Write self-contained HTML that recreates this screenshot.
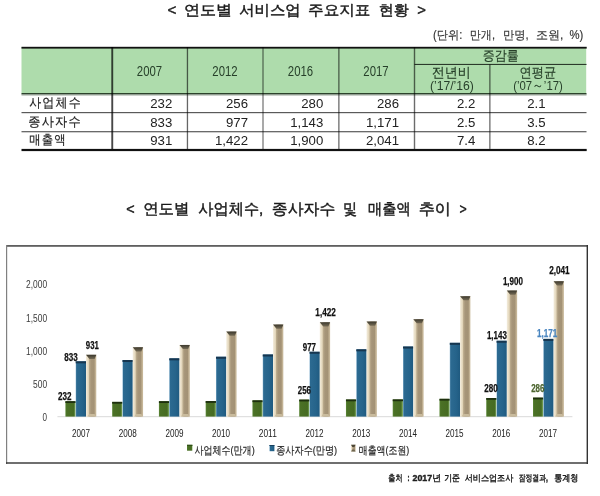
<!DOCTYPE html>
<html><head><meta charset="utf-8"><title>서비스업 주요지표</title>
<style>html,body{margin:0;padding:0;background:#fff;width:600px;height:496px;overflow:hidden}svg{display:block;will-change:transform}</style>
</head><body>
<svg width="600" height="496" viewBox="0 0 600 496"><defs>
<linearGradient id="gG" x1="0" x2="1" y1="0" y2="0"><stop offset="0" stop-color="#5d8a3a"/><stop offset="0.12" stop-color="#4b7126"/><stop offset="0.8" stop-color="#466b22"/><stop offset="0.92" stop-color="#6a9448"/><stop offset="1" stop-color="#98bb80"/></linearGradient>
<linearGradient id="gB" x1="0" x2="1" y1="0" y2="0"><stop offset="0" stop-color="#8db6d2"/><stop offset="0.09" stop-color="#2c6a91"/><stop offset="0.6" stop-color="#26648b"/><stop offset="1" stop-color="#1f5a80"/></linearGradient>
<linearGradient id="gT" x1="0" x2="1" y1="0" y2="0"><stop offset="0" stop-color="#f3ecdc"/><stop offset="0.24" stop-color="#e2d5b9"/><stop offset="0.34" stop-color="#b9a98b"/><stop offset="0.5" stop-color="#a69579"/><stop offset="0.8" stop-color="#a39275"/><stop offset="0.87" stop-color="#bdac8e"/><stop offset="1" stop-color="#cbbc9e"/></linearGradient>
<linearGradient id="gTop" x1="0" x2="0" y1="0" y2="1"><stop offset="0" stop-color="#3b382d"/><stop offset="1" stop-color="#756b55"/></linearGradient>
</defs><rect x="21.5" y="47" width="564.7" height="46.5" fill="#aedcac"/>
<rect x="21.5" y="46.8" width="565.2" height="1.8" fill="#111"/>
<rect x="21.5" y="93.0" width="565.0" height="1.3" fill="#2c432c"/>
<rect x="21.5" y="94.3" width="565.0" height="1.1" fill="#7f8c7f"/>
<rect x="414.5" y="63.9" width="172.0" height="1.1" fill="#2b3a2b"/>
<rect x="21.5" y="112.0" width="565" height="1.2" fill="#5a5a5a"/>
<rect x="21.5" y="131.1" width="565" height="1.2" fill="#5a5a5a"/>
<rect x="21.5" y="148.9" width="565.2" height="2.2" fill="#111"/>
<rect x="111.3" y="47" width="1.9" height="102" fill="#000" fill-opacity="0.72"/>
<rect x="186.8" y="47" width="1.3" height="102" fill="#000" fill-opacity="0.6"/>
<rect x="262.2" y="47" width="1.6" height="102" fill="#000" fill-opacity="0.42"/>
<rect x="338.1" y="47" width="1.5" height="102" fill="#000" fill-opacity="0.5"/>
<rect x="413.8" y="47" width="1.4" height="102" fill="#000" fill-opacity="0.58"/>
<rect x="489.1" y="64.5" width="1.5" height="84.4" fill="#000" fill-opacity="0.5"/>
<text x="149.5" y="75.8" font-size="14" fill="#27402a" text-anchor="middle" textLength="25.3" lengthAdjust="spacingAndGlyphs" font-family='"Liberation Sans", sans-serif'>2007</text>
<text x="225" y="75.8" font-size="14" fill="#27402a" text-anchor="middle" textLength="25.3" lengthAdjust="spacingAndGlyphs" font-family='"Liberation Sans", sans-serif'>2012</text>
<text x="300.5" y="75.8" font-size="14" fill="#27402a" text-anchor="middle" textLength="25.3" lengthAdjust="spacingAndGlyphs" font-family='"Liberation Sans", sans-serif'>2016</text>
<text x="376" y="75.8" font-size="14" fill="#27402a" text-anchor="middle" textLength="25.3" lengthAdjust="spacingAndGlyphs" font-family='"Liberation Sans", sans-serif'>2017</text>
<text x="500.8" y="59.8" font-size="13.5" fill="#27402a" text-anchor="middle" textLength="36" lengthAdjust="spacingAndGlyphs" stroke="#27402a" stroke-width="0.2" font-family='"Liberation Sans", "WenQuanYi Zen Hei", sans-serif'>증감률</text>
<text x="451.3" y="76.8" font-size="13.5" fill="#27402a" text-anchor="middle" textLength="39" lengthAdjust="spacingAndGlyphs" stroke="#27402a" stroke-width="0.2" font-family='"Liberation Sans", "WenQuanYi Zen Hei", sans-serif'>전년비</text>
<text x="451.9" y="90.4" font-size="13.5" fill="#27402a" text-anchor="middle" textLength="44" lengthAdjust="spacingAndGlyphs" font-family='"Liberation Sans", sans-serif'>(’17/’16)</text>
<text x="537.8" y="77.0" font-size="13.5" fill="#27402a" text-anchor="middle" textLength="36.5" lengthAdjust="spacingAndGlyphs" stroke="#27402a" stroke-width="0.2" font-family='"Liberation Sans", "WenQuanYi Zen Hei", sans-serif'>연평균</text>
<text x="538" y="90.3" font-size="13.5" fill="#27402a" text-anchor="middle" textLength="49.5" lengthAdjust="spacingAndGlyphs" font-family='"Liberation Sans", sans-serif'>(’07～’17)</text>
<text x="172.3" y="107.6" font-size="13.2" fill="#222" text-anchor="end" font-family='"Liberation Sans", sans-serif'>232</text>
<text x="248.0" y="107.6" font-size="13.2" fill="#222" text-anchor="end" font-family='"Liberation Sans", sans-serif'>256</text>
<text x="323.3" y="107.6" font-size="13.2" fill="#222" text-anchor="end" font-family='"Liberation Sans", sans-serif'>280</text>
<text x="399.0" y="107.6" font-size="13.2" fill="#222" text-anchor="end" font-family='"Liberation Sans", sans-serif'>286</text>
<text x="475.3" y="107.6" font-size="13.2" fill="#222" text-anchor="end" font-family='"Liberation Sans", sans-serif'>2.2</text>
<text x="545.6" y="107.6" font-size="13.2" fill="#222" text-anchor="end" font-family='"Liberation Sans", sans-serif'>2.1</text>
<text x="172.3" y="126.5" font-size="13.2" fill="#222" text-anchor="end" font-family='"Liberation Sans", sans-serif'>833</text>
<text x="248.0" y="126.5" font-size="13.2" fill="#222" text-anchor="end" font-family='"Liberation Sans", sans-serif'>977</text>
<text x="323.3" y="126.5" font-size="13.2" fill="#222" text-anchor="end" font-family='"Liberation Sans", sans-serif'>1,143</text>
<text x="399.0" y="126.5" font-size="13.2" fill="#222" text-anchor="end" font-family='"Liberation Sans", sans-serif'>1,171</text>
<text x="475.3" y="126.5" font-size="13.2" fill="#222" text-anchor="end" font-family='"Liberation Sans", sans-serif'>2.5</text>
<text x="545.6" y="126.5" font-size="13.2" fill="#222" text-anchor="end" font-family='"Liberation Sans", sans-serif'>3.5</text>
<text x="172.3" y="145.2" font-size="13.2" fill="#222" text-anchor="end" font-family='"Liberation Sans", sans-serif'>931</text>
<text x="248.0" y="145.2" font-size="13.2" fill="#222" text-anchor="end" font-family='"Liberation Sans", sans-serif'>1,422</text>
<text x="323.3" y="145.2" font-size="13.2" fill="#222" text-anchor="end" font-family='"Liberation Sans", sans-serif'>1,900</text>
<text x="399.0" y="145.2" font-size="13.2" fill="#222" text-anchor="end" font-family='"Liberation Sans", sans-serif'>2,041</text>
<text x="475.3" y="145.2" font-size="13.2" fill="#222" text-anchor="end" font-family='"Liberation Sans", sans-serif'>7.4</text>
<text x="545.6" y="145.2" font-size="13.2" fill="#222" text-anchor="end" font-family='"Liberation Sans", sans-serif'>8.2</text>
<rect x="6" y="245" width="582" height="1.8" fill="#5f5f5f"/>
<rect x="6" y="245" width="1.2" height="219" fill="#808080"/>
<rect x="586.6" y="245" width="1.4" height="219" fill="#333"/>
<rect x="6" y="462.3" width="582" height="1.4" fill="#333"/>
<rect x="57.4" y="416.2" width="515" height="1.0" fill="#d9d9d9"/>
<rect x="65.4" y="401.20680000000004" width="10.3" height="15.393200000000002" fill="url(#gG)"/>
<rect x="65.4" y="401.20680000000004" width="10.3" height="1.8" fill="#1d2f0e"/>
<rect x="75.7" y="361.33045000000004" width="10.3" height="55.26955" fill="url(#gB)"/>
<rect x="75.7" y="361.33045000000004" width="10.3" height="2.0" fill="#163650"/>
<rect x="86.0" y="354.82815" width="10.3" height="61.77185000000001" fill="url(#gT)"/>
<polygon points="86.0,354.82815 96.3,354.82815 94.6,359.02815 89.4,359.02815" fill="url(#gTop)"/>
<polygon points="87.4,416.6 95.7,416.6 94.6,414.0 89.4,414.0" fill="#c9bb9d"/>
<rect x="112.16" y="401.87030000000004" width="10.3" height="14.729700000000001" fill="url(#gG)"/>
<rect x="112.16" y="401.87030000000004" width="10.3" height="1.8" fill="#1d2f0e"/>
<rect x="122.46" y="360.00345000000004" width="10.3" height="56.59655000000001" fill="url(#gB)"/>
<rect x="122.46" y="360.00345000000004" width="10.3" height="2.0" fill="#163650"/>
<rect x="132.76" y="347.26425" width="10.3" height="69.33575" fill="url(#gT)"/>
<polygon points="132.76,347.26425 143.06,347.26425 141.36,351.46425 136.16,351.46425" fill="url(#gTop)"/>
<polygon points="134.16,416.6 142.46,416.6 141.36,414.0 136.16,414.0" fill="#c9bb9d"/>
<rect x="158.92000000000002" y="401.20680000000004" width="10.3" height="15.393200000000002" fill="url(#gG)"/>
<rect x="158.92000000000002" y="401.20680000000004" width="10.3" height="1.8" fill="#1d2f0e"/>
<rect x="169.22000000000003" y="358.3447" width="10.3" height="58.255300000000005" fill="url(#gB)"/>
<rect x="169.22000000000003" y="358.3447" width="10.3" height="2.0" fill="#163650"/>
<rect x="179.52" y="344.87565" width="10.3" height="71.72435" fill="url(#gT)"/>
<polygon points="179.52,344.87565 189.82000000000002,344.87565 188.12000000000003,349.07565 182.92000000000002,349.07565" fill="url(#gTop)"/>
<polygon points="180.92000000000002,416.6 189.22000000000003,416.6 188.12000000000003,414.0 182.92000000000002,414.0" fill="#c9bb9d"/>
<rect x="205.68" y="401.07410000000004" width="10.3" height="15.525900000000002" fill="url(#gG)"/>
<rect x="205.68" y="401.07410000000004" width="10.3" height="1.8" fill="#1d2f0e"/>
<rect x="215.98000000000002" y="356.7523" width="10.3" height="59.8477" fill="url(#gB)"/>
<rect x="215.98000000000002" y="356.7523" width="10.3" height="2.0" fill="#163650"/>
<rect x="226.28" y="331.60565" width="10.3" height="84.99435000000001" fill="url(#gT)"/>
<polygon points="226.28,331.60565 236.58,331.60565 234.88000000000002,335.80565 229.68,335.80565" fill="url(#gTop)"/>
<polygon points="227.68,416.6 235.98000000000002,416.6 234.88000000000002,414.0 229.68,414.0" fill="#c9bb9d"/>
<rect x="252.44" y="400.34425000000005" width="10.3" height="16.255750000000003" fill="url(#gG)"/>
<rect x="252.44" y="400.34425000000005" width="10.3" height="1.8" fill="#1d2f0e"/>
<rect x="262.74" y="354.4964" width="10.3" height="62.10360000000001" fill="url(#gB)"/>
<rect x="262.74" y="354.4964" width="10.3" height="2.0" fill="#163650"/>
<rect x="273.04" y="324.57255000000004" width="10.3" height="92.02745" fill="url(#gT)"/>
<polygon points="273.04,324.57255000000004 283.34000000000003,324.57255000000004 281.64000000000004,328.77255 276.44,328.77255" fill="url(#gTop)"/>
<polygon points="274.44,416.6 282.74,416.6 281.64000000000004,414.0 276.44,414.0" fill="#c9bb9d"/>
<rect x="299.2" y="399.61440000000005" width="10.3" height="16.9856" fill="url(#gG)"/>
<rect x="299.2" y="399.61440000000005" width="10.3" height="1.8" fill="#1d2f0e"/>
<rect x="309.5" y="351.77605" width="10.3" height="64.82395000000001" fill="url(#gB)"/>
<rect x="309.5" y="351.77605" width="10.3" height="2.0" fill="#163650"/>
<rect x="319.8" y="322.25030000000004" width="10.3" height="94.34970000000001" fill="url(#gT)"/>
<polygon points="319.8,322.25030000000004 330.1,322.25030000000004 328.40000000000003,326.4503 323.2,326.4503" fill="url(#gTop)"/>
<polygon points="321.2,416.6 329.5,416.6 328.40000000000003,414.0 323.2,414.0" fill="#c9bb9d"/>
<rect x="345.96000000000004" y="399.48170000000005" width="10.3" height="17.1183" fill="url(#gG)"/>
<rect x="345.96000000000004" y="399.48170000000005" width="10.3" height="1.8" fill="#1d2f0e"/>
<rect x="356.26000000000005" y="349.3211" width="10.3" height="67.27890000000001" fill="url(#gB)"/>
<rect x="356.26000000000005" y="349.3211" width="10.3" height="2.0" fill="#163650"/>
<rect x="366.56000000000006" y="321.45410000000004" width="10.3" height="95.14590000000001" fill="url(#gT)"/>
<polygon points="366.56000000000006,321.45410000000004 376.86000000000007,321.45410000000004 375.1600000000001,325.6541 369.96000000000004,325.6541" fill="url(#gTop)"/>
<polygon points="367.96000000000004,416.6 376.26000000000005,416.6 375.1600000000001,414.0 369.96000000000004,414.0" fill="#c9bb9d"/>
<rect x="392.72" y="399.41535000000005" width="10.3" height="17.18465" fill="url(#gG)"/>
<rect x="392.72" y="399.41535000000005" width="10.3" height="1.8" fill="#1d2f0e"/>
<rect x="403.02000000000004" y="346.5344" width="10.3" height="70.0656" fill="url(#gB)"/>
<rect x="403.02000000000004" y="346.5344" width="10.3" height="2.0" fill="#163650"/>
<rect x="413.32000000000005" y="319.13185" width="10.3" height="97.46815000000001" fill="url(#gT)"/>
<polygon points="413.32000000000005,319.13185 423.62000000000006,319.13185 421.9200000000001,323.33185 416.72,323.33185" fill="url(#gTop)"/>
<polygon points="414.72,416.6 423.02000000000004,416.6 421.9200000000001,414.0 416.72,414.0" fill="#c9bb9d"/>
<rect x="439.48" y="398.81820000000005" width="10.3" height="17.7818" fill="url(#gG)"/>
<rect x="439.48" y="398.81820000000005" width="10.3" height="1.8" fill="#1d2f0e"/>
<rect x="449.78000000000003" y="342.8188" width="10.3" height="73.78120000000001" fill="url(#gB)"/>
<rect x="449.78000000000003" y="342.8188" width="10.3" height="2.0" fill="#163650"/>
<rect x="460.08000000000004" y="296.17475" width="10.3" height="120.42525" fill="url(#gT)"/>
<polygon points="460.08000000000004,296.17475 470.38000000000005,296.17475 468.68000000000006,300.37475 463.48,300.37475" fill="url(#gTop)"/>
<polygon points="461.48,416.6 469.78000000000003,416.6 468.68000000000006,414.0 463.48,414.0" fill="#c9bb9d"/>
<rect x="486.24" y="398.02200000000005" width="10.3" height="18.578000000000003" fill="url(#gG)"/>
<rect x="486.24" y="398.02200000000005" width="10.3" height="1.8" fill="#1d2f0e"/>
<rect x="496.54" y="340.76195" width="10.3" height="75.83805000000001" fill="url(#gB)"/>
<rect x="496.54" y="340.76195" width="10.3" height="2.0" fill="#163650"/>
<rect x="506.84000000000003" y="290.535" width="10.3" height="126.06500000000001" fill="url(#gT)"/>
<polygon points="506.84000000000003,290.535 517.14,290.535 515.4399999999999,294.735 510.24,294.735" fill="url(#gTop)"/>
<polygon points="508.24,416.6 516.54,416.6 515.4399999999999,414.0 510.24,414.0" fill="#c9bb9d"/>
<rect x="533.0" y="397.62390000000005" width="10.3" height="18.976100000000002" fill="url(#gG)"/>
<rect x="533.0" y="397.62390000000005" width="10.3" height="1.8" fill="#1d2f0e"/>
<rect x="543.3" y="338.90415" width="10.3" height="77.69585000000001" fill="url(#gB)"/>
<rect x="543.3" y="338.90415" width="10.3" height="2.0" fill="#163650"/>
<rect x="553.6" y="281.17965000000004" width="10.3" height="135.42035" fill="url(#gT)"/>
<polygon points="553.6,281.17965000000004 563.9,281.17965000000004 562.1999999999999,285.37965 557.0,285.37965" fill="url(#gTop)"/>
<polygon points="555.0,416.6 563.3,416.6 562.1999999999999,414.0 557.0,414.0" fill="#c9bb9d"/>
<text x="47.1" y="288.4" font-size="10.4" fill="#3a3a3a" text-anchor="end" textLength="21" lengthAdjust="spacingAndGlyphs" font-family='"Liberation Sans", sans-serif'>2,000</text>
<text x="47.1" y="321.5" font-size="10.4" fill="#3a3a3a" text-anchor="end" textLength="21" lengthAdjust="spacingAndGlyphs" font-family='"Liberation Sans", sans-serif'>1,500</text>
<text x="47.1" y="354.8" font-size="10.4" fill="#3a3a3a" text-anchor="end" textLength="21" lengthAdjust="spacingAndGlyphs" font-family='"Liberation Sans", sans-serif'>1,000</text>
<text x="47.1" y="388.4" font-size="10.4" fill="#3a3a3a" text-anchor="end" textLength="14" lengthAdjust="spacingAndGlyphs" font-family='"Liberation Sans", sans-serif'>500</text>
<text x="47.1" y="421.2" font-size="10.4" fill="#3a3a3a" text-anchor="end" textLength="4.5" lengthAdjust="spacingAndGlyphs" font-family='"Liberation Sans", sans-serif'>0</text>
<text x="81.0" y="436.8" font-size="10.0" fill="#222" text-anchor="middle" textLength="18" lengthAdjust="spacingAndGlyphs" font-family='"Liberation Sans", sans-serif'>2007</text>
<text x="127.7" y="436.8" font-size="10.0" fill="#222" text-anchor="middle" textLength="18" lengthAdjust="spacingAndGlyphs" font-family='"Liberation Sans", sans-serif'>2008</text>
<text x="174.4" y="436.8" font-size="10.0" fill="#222" text-anchor="middle" textLength="18" lengthAdjust="spacingAndGlyphs" font-family='"Liberation Sans", sans-serif'>2009</text>
<text x="221.10000000000002" y="436.8" font-size="10.0" fill="#222" text-anchor="middle" textLength="18" lengthAdjust="spacingAndGlyphs" font-family='"Liberation Sans", sans-serif'>2010</text>
<text x="267.8" y="436.8" font-size="10.0" fill="#222" text-anchor="middle" textLength="18" lengthAdjust="spacingAndGlyphs" font-family='"Liberation Sans", sans-serif'>2011</text>
<text x="314.5" y="436.8" font-size="10.0" fill="#222" text-anchor="middle" textLength="18" lengthAdjust="spacingAndGlyphs" font-family='"Liberation Sans", sans-serif'>2012</text>
<text x="361.20000000000005" y="436.8" font-size="10.0" fill="#222" text-anchor="middle" textLength="18" lengthAdjust="spacingAndGlyphs" font-family='"Liberation Sans", sans-serif'>2013</text>
<text x="407.90000000000003" y="436.8" font-size="10.0" fill="#222" text-anchor="middle" textLength="18" lengthAdjust="spacingAndGlyphs" font-family='"Liberation Sans", sans-serif'>2014</text>
<text x="454.6" y="436.8" font-size="10.0" fill="#222" text-anchor="middle" textLength="18" lengthAdjust="spacingAndGlyphs" font-family='"Liberation Sans", sans-serif'>2015</text>
<text x="501.3" y="436.8" font-size="10.0" fill="#222" text-anchor="middle" textLength="18" lengthAdjust="spacingAndGlyphs" font-family='"Liberation Sans", sans-serif'>2016</text>
<text x="548.0" y="436.8" font-size="10.0" fill="#222" text-anchor="middle" textLength="18" lengthAdjust="spacingAndGlyphs" font-family='"Liberation Sans", sans-serif'>2017</text>
<text x="64.7" y="400.2" font-size="10.4" fill="#111" text-anchor="middle" font-weight="bold" textLength="13.5" lengthAdjust="spacingAndGlyphs" stroke="#111" stroke-width="0.25" font-family='"Liberation Sans", sans-serif'>232</text>
<text x="71.0" y="361.2" font-size="10.4" fill="#111" text-anchor="middle" font-weight="bold" textLength="13.5" lengthAdjust="spacingAndGlyphs" stroke="#111" stroke-width="0.25" font-family='"Liberation Sans", sans-serif'>833</text>
<text x="92.3" y="348.59999999999997" font-size="10.4" fill="#111" text-anchor="middle" font-weight="bold" textLength="13.0" lengthAdjust="spacingAndGlyphs" stroke="#111" stroke-width="0.25" font-family='"Liberation Sans", sans-serif'>931</text>
<text x="304.4" y="393.5" font-size="10.4" fill="#111" text-anchor="middle" font-weight="bold" textLength="13.2" lengthAdjust="spacingAndGlyphs" stroke="#111" stroke-width="0.25" font-family='"Liberation Sans", sans-serif'>256</text>
<text x="309.4" y="350.79999999999995" font-size="10.4" fill="#111" text-anchor="middle" font-weight="bold" textLength="13.2" lengthAdjust="spacingAndGlyphs" stroke="#111" stroke-width="0.25" font-family='"Liberation Sans", sans-serif'>977</text>
<text x="325.6" y="316.29999999999995" font-size="10.4" fill="#111" text-anchor="middle" font-weight="bold" textLength="20.5" lengthAdjust="spacingAndGlyphs" stroke="#111" stroke-width="0.25" font-family='"Liberation Sans", sans-serif'>1,422</text>
<text x="491.0" y="391.7" font-size="10.4" fill="#111" text-anchor="middle" font-weight="bold" textLength="13.5" lengthAdjust="spacingAndGlyphs" stroke="#111" stroke-width="0.25" font-family='"Liberation Sans", sans-serif'>280</text>
<text x="496.9" y="338.79999999999995" font-size="10.4" fill="#111" text-anchor="middle" font-weight="bold" textLength="20.0" lengthAdjust="spacingAndGlyphs" stroke="#111" stroke-width="0.25" font-family='"Liberation Sans", sans-serif'>1,143</text>
<text x="512.9" y="284.79999999999995" font-size="10.4" fill="#111" text-anchor="middle" font-weight="bold" textLength="20.0" lengthAdjust="spacingAndGlyphs" stroke="#111" stroke-width="0.25" font-family='"Liberation Sans", sans-serif'>1,900</text>
<text x="537.8" y="391.7" font-size="10.4" fill="#4d6630" text-anchor="middle" font-weight="bold" textLength="13.3" lengthAdjust="spacingAndGlyphs" stroke="#4d6630" stroke-width="0.25" font-family='"Liberation Sans", sans-serif'>286</text>
<text x="547.2" y="337.4" font-size="10.4" fill="#4a86c0" text-anchor="middle" font-weight="bold" textLength="20.3" lengthAdjust="spacingAndGlyphs" stroke="#4a86c0" stroke-width="0.25" font-family='"Liberation Sans", sans-serif'>1,171</text>
<text x="559.4" y="274.4" font-size="10.4" fill="#111" text-anchor="middle" font-weight="bold" textLength="20.5" lengthAdjust="spacingAndGlyphs" stroke="#111" stroke-width="0.25" font-family='"Liberation Sans", sans-serif'>2,041</text>
<rect x="187" y="444.8" width="5.5" height="5.9" fill="url(#gG)"/><rect x="187" y="444.8" width="5.5" height="1" fill="#2c4a16"/>
<rect x="269.4" y="445" width="5" height="6.2" fill="url(#gB)"/><rect x="269.4" y="445" width="5" height="1" fill="#173f5c"/>
<rect x="351" y="444.8" width="4.6" height="6.6" fill="url(#gT)"/><polygon points="351,444.8 355.6,444.8 354.3,447 352.3,447" fill="#4a4536"/><polygon points="351,451.4 355.6,451.4 354.3,449.6 352.3,449.6" fill="#6e6650"/>
<text x="167.5" y="15.0" font-size="14.6" fill="#1a1a1a" textLength="8.85" lengthAdjust="spacingAndGlyphs" stroke="#1a1a1a" stroke-width="0.45" font-family='"Liberation Sans", "WenQuanYi Zen Hei", sans-serif'>&lt;</text>
<text x="183.9" y="15.0" font-size="14.6" fill="#1a1a1a" textLength="48.05" lengthAdjust="spacingAndGlyphs" stroke="#1a1a1a" stroke-width="0.45" font-family='"Liberation Sans", "WenQuanYi Zen Hei", sans-serif'>연도별</text>
<text x="239.2" y="15.0" font-size="14.6" fill="#1a1a1a" textLength="61.45" lengthAdjust="spacingAndGlyphs" stroke="#1a1a1a" stroke-width="0.45" font-family='"Liberation Sans", "WenQuanYi Zen Hei", sans-serif'>서비스업</text>
<text x="308.13" y="15.0" font-size="14.6" fill="#1a1a1a" textLength="62.27" lengthAdjust="spacingAndGlyphs" stroke="#1a1a1a" stroke-width="0.45" font-family='"Liberation Sans", "WenQuanYi Zen Hei", sans-serif'>주요지표</text>
<text x="378.77" y="15.0" font-size="14.6" fill="#1a1a1a" textLength="30.02" lengthAdjust="spacingAndGlyphs" stroke="#1a1a1a" stroke-width="0.45" font-family='"Liberation Sans", "WenQuanYi Zen Hei", sans-serif'>현황</text>
<text x="417.2" y="15.0" font-size="14.6" fill="#1a1a1a" textLength="8.64" lengthAdjust="spacingAndGlyphs" stroke="#1a1a1a" stroke-width="0.45" font-family='"Liberation Sans", "WenQuanYi Zen Hei", sans-serif'>&gt;</text>
<text x="433.1" y="38.6" font-size="12.0" fill="#333" textLength="29.22" lengthAdjust="spacingAndGlyphs" stroke="#333" stroke-width="0.15" font-family='"Liberation Sans", "WenQuanYi Zen Hei", sans-serif'>(단위:</text>
<text x="469.78" y="38.6" font-size="12.0" fill="#333" textLength="25.24" lengthAdjust="spacingAndGlyphs" stroke="#333" stroke-width="0.15" font-family='"Liberation Sans", "WenQuanYi Zen Hei", sans-serif'>만개,</text>
<text x="503.06" y="38.6" font-size="12.0" fill="#333" textLength="25.66" lengthAdjust="spacingAndGlyphs" stroke="#333" stroke-width="0.15" font-family='"Liberation Sans", "WenQuanYi Zen Hei", sans-serif'>만명,</text>
<text x="535.9" y="38.6" font-size="12.0" fill="#333" textLength="27.45" lengthAdjust="spacingAndGlyphs" stroke="#333" stroke-width="0.15" font-family='"Liberation Sans", "WenQuanYi Zen Hei", sans-serif'>조원,</text>
<text x="569.4" y="38.6" font-size="12.0" fill="#333" textLength="13.83" lengthAdjust="spacingAndGlyphs" stroke="#333" stroke-width="0.15" font-family='"Liberation Sans", "WenQuanYi Zen Hei", sans-serif'>%)</text>
<text x="29.2" y="106.8" font-size="13.0" fill="#222" textLength="52.73" lengthAdjust="spacingAndGlyphs" stroke="#222" stroke-width="0.2" font-family='"Liberation Sans", "WenQuanYi Zen Hei", sans-serif' letter-spacing="1.3">사업체수</text>
<text x="28.26" y="125.7" font-size="13.0" fill="#222" textLength="53.71" lengthAdjust="spacingAndGlyphs" stroke="#222" stroke-width="0.2" font-family='"Liberation Sans", "WenQuanYi Zen Hei", sans-serif' letter-spacing="1.3">종사자수</text>
<text x="29.2" y="144.4" font-size="13.0" fill="#222" textLength="37.76" lengthAdjust="spacingAndGlyphs" stroke="#222" stroke-width="0.2" font-family='"Liberation Sans", "WenQuanYi Zen Hei", sans-serif' letter-spacing="1.3">매출액</text>
<text x="126.3" y="213.9" font-size="15.4" fill="#1a1a1a" textLength="8.4" lengthAdjust="spacingAndGlyphs" stroke="#1a1a1a" stroke-width="0.45" font-family='"Liberation Sans", "WenQuanYi Zen Hei", sans-serif'>&lt;</text>
<text x="143.2" y="213.9" font-size="15.4" fill="#1a1a1a" textLength="46.28" lengthAdjust="spacingAndGlyphs" stroke="#1a1a1a" stroke-width="0.45" font-family='"Liberation Sans", "WenQuanYi Zen Hei", sans-serif'>연도별</text>
<text x="198.3" y="213.9" font-size="15.4" fill="#1a1a1a" textLength="65.03" lengthAdjust="spacingAndGlyphs" stroke="#1a1a1a" stroke-width="0.45" font-family='"Liberation Sans", "WenQuanYi Zen Hei", sans-serif'>사업체수,</text>
<text x="271.77" y="213.9" font-size="15.4" fill="#1a1a1a" textLength="63.51" lengthAdjust="spacingAndGlyphs" stroke="#1a1a1a" stroke-width="0.45" font-family='"Liberation Sans", "WenQuanYi Zen Hei", sans-serif'>종사자수</text>
<text x="343.09" y="213.9" font-size="15.4" fill="#1a1a1a" textLength="14.07" lengthAdjust="spacingAndGlyphs" stroke="#1a1a1a" stroke-width="0.45" font-family='"Liberation Sans", "WenQuanYi Zen Hei", sans-serif'>및</text>
<text x="367.9" y="213.9" font-size="15.4" fill="#1a1a1a" textLength="42.81" lengthAdjust="spacingAndGlyphs" stroke="#1a1a1a" stroke-width="0.45" font-family='"Liberation Sans", "WenQuanYi Zen Hei", sans-serif'>매출액</text>
<text x="418.76" y="213.9" font-size="15.4" fill="#1a1a1a" textLength="32.1" lengthAdjust="spacingAndGlyphs" stroke="#1a1a1a" stroke-width="0.45" font-family='"Liberation Sans", "WenQuanYi Zen Hei", sans-serif'>추이</text>
<text x="459.5" y="213.9" font-size="15.4" fill="#1a1a1a" textLength="7.2" lengthAdjust="spacingAndGlyphs" stroke="#1a1a1a" stroke-width="0.45" font-family='"Liberation Sans", "WenQuanYi Zen Hei", sans-serif'>&gt;</text>
<text x="194.4" y="453.6" font-size="11.0" fill="#262626" textLength="60.27" lengthAdjust="spacingAndGlyphs" stroke="#262626" stroke-width="0.2" font-family='"Liberation Sans", "WenQuanYi Zen Hei", sans-serif'>사업체수(만개)</text>
<text x="276.2" y="453.6" font-size="11.0" fill="#262626" textLength="60.97" lengthAdjust="spacingAndGlyphs" stroke="#262626" stroke-width="0.2" font-family='"Liberation Sans", "WenQuanYi Zen Hei", sans-serif'>종사자수(만명)</text>
<text x="358.8" y="453.6" font-size="11.0" fill="#262626" textLength="50.47" lengthAdjust="spacingAndGlyphs" stroke="#262626" stroke-width="0.2" font-family='"Liberation Sans", "WenQuanYi Zen Hei", sans-serif'>매출액(조원)</text>
<text x="388.3" y="481.4" font-size="9.0" fill="#1e1e1e" font-weight="bold" textLength="14.19" lengthAdjust="spacingAndGlyphs" stroke="#1e1e1e" stroke-width="0.4" font-family='"Liberation Sans", "WenQuanYi Zen Hei", sans-serif'>출처</text>
<text x="407.5" y="481.4" font-size="9.0" fill="#1e1e1e" font-weight="bold" textLength="2.0" lengthAdjust="spacingAndGlyphs" stroke="#1e1e1e" stroke-width="0.4" font-family='"Liberation Sans", "WenQuanYi Zen Hei", sans-serif'>:</text>
<text x="412.5" y="481.4" font-size="9.0" fill="#1e1e1e" font-weight="bold" textLength="28.51" lengthAdjust="spacingAndGlyphs" stroke="#1e1e1e" stroke-width="0.4" font-family='"Liberation Sans", "WenQuanYi Zen Hei", sans-serif'>2017년</text>
<text x="444.2" y="481.4" font-size="9.0" fill="#1e1e1e" font-weight="bold" textLength="15.8" lengthAdjust="spacingAndGlyphs" stroke="#1e1e1e" stroke-width="0.4" font-family='"Liberation Sans", "WenQuanYi Zen Hei", sans-serif'>기준</text>
<text x="464.7" y="481.4" font-size="9.0" fill="#1e1e1e" font-weight="bold" textLength="48.6" lengthAdjust="spacingAndGlyphs" stroke="#1e1e1e" stroke-width="0.4" font-family='"Liberation Sans", "WenQuanYi Zen Hei", sans-serif'>서비스업조사</text>
<text x="518.7" y="481.4" font-size="9.0" fill="#1e1e1e" font-weight="bold" textLength="29.23" lengthAdjust="spacingAndGlyphs" stroke="#1e1e1e" stroke-width="0.4" font-family='"Liberation Sans", "WenQuanYi Zen Hei", sans-serif'>잠정결과,</text>
<text x="554.2" y="481.4" font-size="9.0" fill="#1e1e1e" font-weight="bold" textLength="24.2" lengthAdjust="spacingAndGlyphs" stroke="#1e1e1e" stroke-width="0.4" font-family='"Liberation Sans", "WenQuanYi Zen Hei", sans-serif'>통계청</text></svg>
</body></html>
